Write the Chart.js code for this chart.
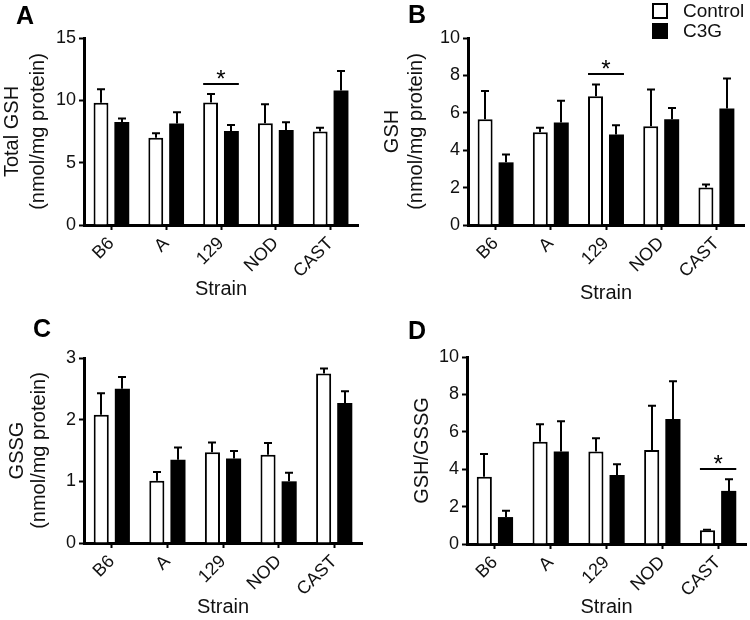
<!DOCTYPE html>
<html>
<head>
<meta charset="utf-8">
<script src="https://cdn.jsdelivr.net/npm/chart.js@4.4.1/dist/chart.umd.min.js"></script>
<style>
  body { margin: 0; background: #fff; }
  #wrap { position: relative; width: 750px; height: 620px; font-family: "Liberation Sans", Arial, sans-serif; color: #111; }
  .panel { position: absolute; width: 375px; height: 310px; }
  .panel canvas { display: block; }
  .letter { position: absolute; font-weight: bold; font-size: 25px; line-height: 25px; color: #000; }
  .legend { position: absolute; left: 652px; top: 1px; font-size: 19px; }
  .legend div { height: 20px; line-height: 20px; display: flex; align-items: center; }
  .legend span.box { width: 16px; height: 16px; box-sizing: border-box; border: 2px solid #000; margin-right: 15px; }
</style>
</head>
<body>
<div id="wrap">
  <div class="panel" style="left:0;top:0"><canvas id="chartA" width="375" height="310"></canvas></div>
  <div class="panel" style="left:375px;top:0"><canvas id="chartB" width="375" height="310"></canvas></div>
  <div class="panel" style="left:0;top:310px"><canvas id="chartC" width="375" height="310"></canvas></div>
  <div class="panel" style="left:375px;top:310px"><canvas id="chartD" width="375" height="310"></canvas></div>
  <div class="letter" style="left:16px;top:3px">A</div>
  <div class="letter" style="left:408px;top:2px">B</div>
  <div class="letter" style="left:33px;top:316px">C</div>
  <div class="letter" style="left:408px;top:318px">D</div>
  <div class="legend" id="legend"></div>
</div>
<script>
const strains = ['B6', 'A', '129', 'NOD', 'CAST'];
const seriesNames = ['Control', 'C3G'];

// A: total GSH
const totalCtrl = [9.8, 7.0, 9.82, 8.16, 7.49];
const totalCtrlErr = [1.08, 0.35, 0.68, 1.52, 0.32];
const totalC3g = [8.27, 8.15, 7.54, 7.62, 10.78];
const totalC3gErr = [0.27, 0.9, 0.48, 0.62, 1.57];
const totalTicks = [0, 5, 10, 15];

// B: GSH
const gshCtrl = [5.66, 4.96, 6.89, 5.28, 2.01];
const gshCtrlErr = [1.51, 0.24, 0.62, 1.96, 0.16];
const gshC3g = [3.35, 5.48, 4.84, 5.66, 6.23];
const gshC3gErr = [0.42, 1.16, 0.5, 0.6, 1.6];
const gshTicks = [0, 2, 4, 6, 8, 10];

// C: GSSG
const gssgCtrl = [2.08, 1.01, 1.47, 1.43, 2.75];
const gssgCtrlErr = [0.35, 0.14, 0.16, 0.19, 0.08];
const gssgC3g = [2.5, 1.35, 1.37, 1.0, 2.27];
const gssgC3gErr = [0.19, 0.2, 0.12, 0.14, 0.19];
const gssgTicks = [0, 1, 2, 3];

// D: GSH/GSSG ratio
const ratioCtrl = [3.6, 5.47, 4.94, 5.03, 0.73];
const ratioCtrlErr = [1.21, 0.94, 0.71, 2.36, 0.03];
const ratioC3g = [1.44, 4.94, 3.69, 6.68, 2.84];
const ratioC3gErr = [0.34, 1.63, 0.57, 2.02, 0.62];
const ratioTicks = [0, 2, 4, 6, 8, 10];

// significance bars (strain, height)
const sigTotal = { strain: '129', level: 11.28 };
const sigGsh = { strain: '129', level: 8.05 };
const sigRatio = { strain: 'CAST', level: 4.01 };

const FONT = '"Liberation Sans", Arial, sans-serif';
const INK = '#111';

function extras(errs, sig) {
  return {
    id: 'extras',
    afterDatasetsDraw(chart) {
      const ctx = chart.ctx;
      const y = chart.scales.y;
      ctx.save();
      ctx.strokeStyle = '#000';
      ctx.lineWidth = 2;
      chart.data.datasets.forEach((ds, i) => {
        chart.getDatasetMeta(i).data.forEach((bar, j) => {
          const top = y.getPixelForValue(ds.data[j]);
          const end = y.getPixelForValue(ds.data[j] + errs[i][j]);
          const x = Math.round(bar.x);
          ctx.beginPath();
          ctx.moveTo(x, top);
          ctx.lineTo(x, end);
          ctx.moveTo(x - 4, end);
          ctx.lineTo(x + 4, end);
          ctx.stroke();
        });
      });
      if (sig) {
        const j = chart.data.labels.indexOf(sig.strain);
        const b0 = chart.getDatasetMeta(0).data[j];
        const b1 = chart.getDatasetMeta(1).data[j];
        const x0 = b0.x - b0.width / 2;
        const x1 = b1.x + b1.width / 2;
        const ys = Math.round(y.getPixelForValue(sig.level));
        ctx.beginPath();
        ctx.moveTo(x0, ys);
        ctx.lineTo(x1, ys);
        ctx.stroke();
        ctx.fillStyle = '#000';
        ctx.font = '24px ' + FONT;
        ctx.textAlign = 'center';
        ctx.textBaseline = 'alphabetic';
        ctx.fillText('*', (x0 + x1) / 2, ys + 3);
      }
      ctx.restore();
    }
  };
}

function makePanel(id, geo, ctrl, c3g, errs, ticks, yTitle, sig) {
  return new Chart(document.getElementById(id), {
    type: 'bar',
    data: {
      labels: strains,
      datasets: [
        { label: seriesNames[0], data: ctrl, backgroundColor: '#fff', borderColor: '#000', borderWidth: 2 },
        { label: seriesNames[1], data: c3g, backgroundColor: '#000', borderColor: '#000', borderWidth: 0 }
      ]
    },
    options: {
      responsive: false,
      animation: false,
      layout: { padding: { left: 0, top: geo.top, right: 375 - geo.right, bottom: 0 } },
      datasets: { bar: { categoryPercentage: 0.76, barPercentage: 0.714 } },
      plugins: { legend: { display: false }, tooltip: { enabled: false } },
      scales: {
        x: {
          grid: { display: true, drawOnChartArea: false, drawTicks: true, offset: false, tickLength: 5, tickWidth: 2, tickColor: '#000' },
          border: { display: true, color: '#000', width: 3 },
          ticks: { color: INK, font: { family: FONT, size: 18 }, minRotation: 45, maxRotation: 45, autoSkip: false, padding: 3 },
          title: { display: true, text: 'Strain', color: INK, font: { family: FONT, size: 20 }, padding: { top: 0, bottom: geo.xPad } },
          afterFit: s => { s.height = 310 - geo.bottom; }
        },
        y: {
          min: ticks[0],
          max: ticks[ticks.length - 1],
          afterBuildTicks: s => { s.ticks = ticks.map(v => ({ value: v })); },
          grid: { display: true, drawOnChartArea: false, drawTicks: true, tickLength: 5, tickWidth: 2, tickColor: '#000' },
          border: { display: true, color: '#000', width: 3 },
          ticks: { color: INK, font: { family: FONT, size: 18 }, padding: 3 },
          title: { display: true, text: yTitle, color: INK, font: { family: FONT, size: 20, lineHeight: geo.lh }, padding: { top: geo.yPad, bottom: 0 } },
          afterFit: s => { s.width = geo.left; }
        }
      }
    },
    plugins: [extras(errs, sig)]
  });
}

makePanel('chartA', { left: 84, right: 358, top: 38, bottom: 225, xPad: 9, yPad: 0, lh: 1.28 },
  totalCtrl, totalC3g, [totalCtrlErr, totalC3gErr], totalTicks, ['Total GSH', '(nmol/mg protein)'], sigTotal);
makePanel('chartB', { left: 93, right: 369, top: 38, bottom: 225, xPad: 5, yPad: 5, lh: 1.2 },
  gshCtrl, gshC3g, [gshCtrlErr, gshC3gErr], gshTicks, ['GSH', '(nmol/mg protein)'], sigGsh);
makePanel('chartC', { left: 84, right: 362, top: 48, bottom: 233, xPad: 1, yPad: 6, lh: 1.1 },
  gssgCtrl, gssgC3g, [gssgCtrlErr, gssgC3gErr], gssgTicks, ['GSSG', '(nmol/mg protein)'], null);
makePanel('chartD', { left: 92, right: 371, top: 47, bottom: 234, xPad: 1, yPad: 35, lh: 1.2 },
  ratioCtrl, ratioC3g, [ratioCtrlErr, ratioC3gErr], ratioTicks, 'GSH/GSSG', sigRatio);

// legend
const legend = document.getElementById('legend');
seriesNames.forEach((name, i) => {
  const row = document.createElement('div');
  row.innerHTML = `<span class="box" style="background:${i === 0 ? '#fff' : '#000'}"></span>${name}`;
  legend.appendChild(row);
});
</script>
</body>
</html>
